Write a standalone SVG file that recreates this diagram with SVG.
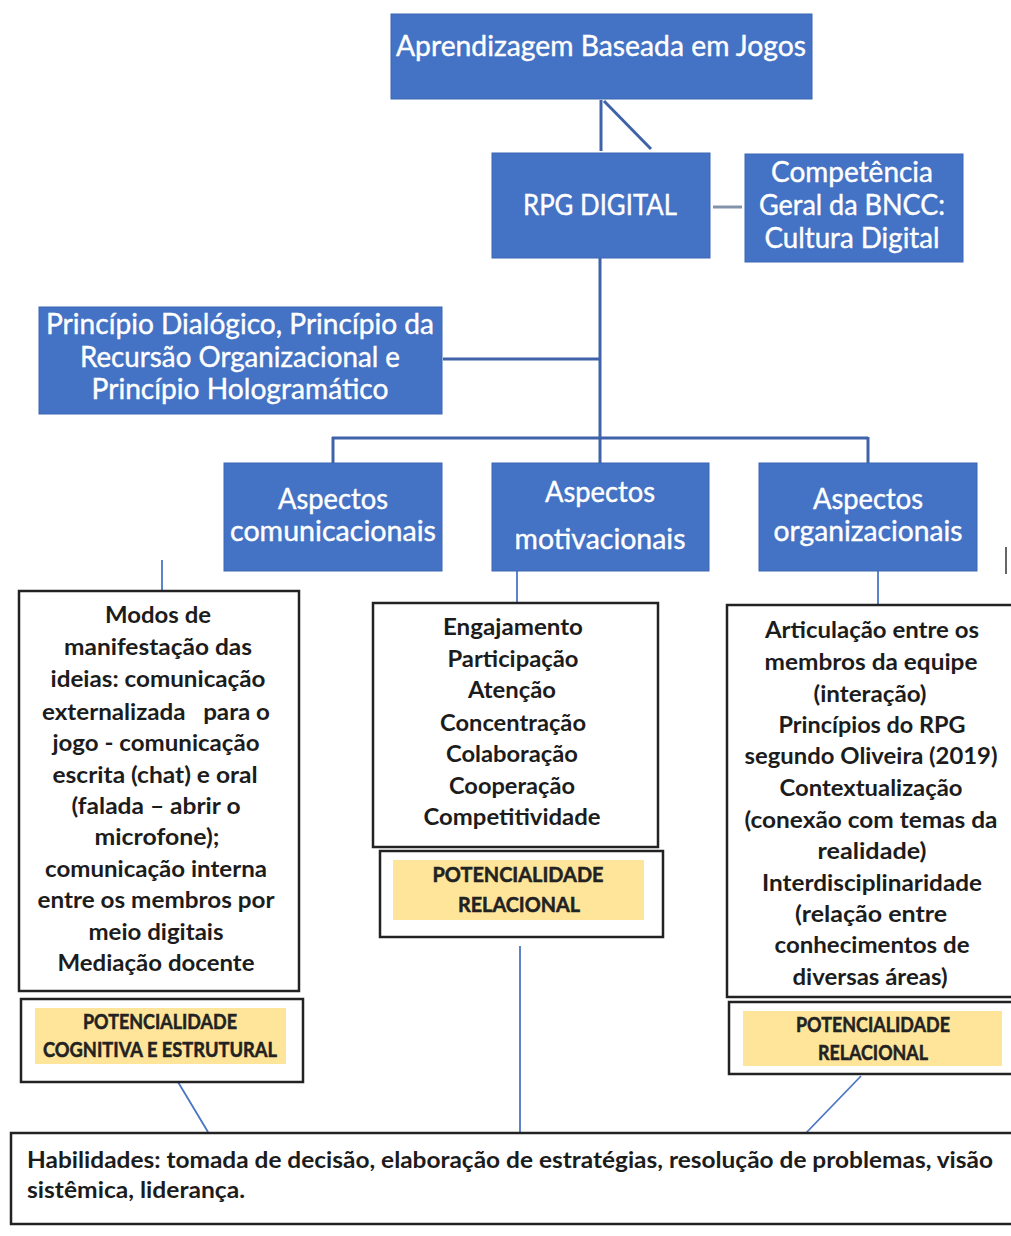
<svg xmlns="http://www.w3.org/2000/svg" width="1011" height="1236" viewBox="0 0 1011 1236">
<style>
.bx{fill:#4472c4;stroke:#3b66b3;stroke-width:1}
.wt{font-family:Lato,"Open Sans","Noto Sans",sans-serif;font-size:28px;fill:#ffffff;stroke:#ffffff;stroke-width:0.4;text-anchor:middle}
.tb{fill:#ffffff;stroke:#222222;stroke-width:2.5}
.bt{font-family:Lato,"Open Sans","Noto Sans",sans-serif;font-weight:bold;font-size:23px;fill:#1c1c1c;text-anchor:middle}
.pt{font-family:Lato,"Open Sans","Noto Sans",sans-serif;font-weight:bold;font-size:20px;fill:#222222;stroke:#222222;stroke-width:0.5;text-anchor:middle}
.yl{fill:#fee59a}
.c1{stroke:#3f62a8;stroke-width:3;fill:none}
.c2{stroke:#4a76c4;stroke-width:1.8;fill:none}
</style>
<rect width="1011" height="1236" fill="#ffffff"/>
<g id="connectors">
<line class="c1" x1="601" y1="100" x2="601" y2="151"/>
<line class="c1" x1="604" y1="101" x2="651" y2="149"/>
<line x1="713" y1="207" x2="742" y2="207" stroke="#8393aa" stroke-width="3"/>
<line class="c1" x1="600" y1="258" x2="600" y2="463"/>
<line class="c1" x1="443" y1="359" x2="600" y2="359"/>
<line class="c1" x1="332" y1="438" x2="868" y2="438"/>
<line class="c1" x1="333" y1="437" x2="333" y2="463"/>
<line class="c1" x1="868" y1="437" x2="868" y2="463"/>
<line class="c2" x1="162" y1="560" x2="162" y2="591"/>
<line class="c2" x1="517" y1="571" x2="517" y2="603"/>
<line class="c2" x1="878" y1="571" x2="878" y2="605"/>
<line class="c2" x1="178" y1="1082" x2="208" y2="1132"/>
<line class="c2" x1="520" y1="946" x2="520" y2="1132"/>
<line class="c2" x1="861" y1="1076" x2="806" y2="1133"/>
<line x1="1006" y1="547" x2="1006" y2="574" stroke="#666666" stroke-width="2"/>
</g>
<g id="aprendizagem">
<rect class="bx" x="391" y="14" width="421" height="85"/>
<text class="wt" x="601" y="56" textLength="410" lengthAdjust="spacingAndGlyphs">Aprendizagem Baseada em Jogos</text>
</g>
<g id="rpg">
<rect class="bx" x="492" y="153" width="218" height="105"/>
<text class="wt" x="600" y="215" textLength="154" lengthAdjust="spacingAndGlyphs">RPG DIGITAL</text>
</g>
<g id="competencia">
<rect class="bx" x="745" y="154" width="218" height="108"/>
<text class="wt" x="852" y="182" textLength="162" lengthAdjust="spacingAndGlyphs">Competência</text>
<text class="wt" x="852" y="215" textLength="186" lengthAdjust="spacingAndGlyphs">Geral da BNCC:</text>
<text class="wt" x="852" y="248" textLength="175" lengthAdjust="spacingAndGlyphs">Cultura Digital</text>
</g>
<g id="principio">
<rect class="bx" x="39" y="307" width="403" height="107"/>
<text class="wt" x="240" y="334" textLength="388" lengthAdjust="spacingAndGlyphs">Princípio Dialógico, Princípio da</text>
<text class="wt" x="240" y="367" textLength="320" lengthAdjust="spacingAndGlyphs">Recursão Organizacional e</text>
<text class="wt" x="240" y="399" textLength="297" lengthAdjust="spacingAndGlyphs">Princípio Hologramático</text>
</g>
<g id="comunicacionais">
<rect class="bx" x="224" y="463" width="218" height="108"/>
<text class="wt" x="333" y="509" textLength="110" lengthAdjust="spacingAndGlyphs">Aspectos</text>
<text class="wt" x="333" y="541" textLength="206" lengthAdjust="spacingAndGlyphs">comunicacionais</text>
</g>
<g id="motivacionais">
<rect class="bx" x="492" y="463" width="217" height="108"/>
<text class="wt" x="600" y="502" textLength="110" lengthAdjust="spacingAndGlyphs">Aspectos</text>
<text class="wt" x="600" y="549" textLength="171" lengthAdjust="spacingAndGlyphs">motivacionais</text>
</g>
<g id="organizacionais">
<rect class="bx" x="759" y="463" width="218" height="108"/>
<text class="wt" x="868" y="509" textLength="110" lengthAdjust="spacingAndGlyphs">Aspectos</text>
<text class="wt" x="868" y="541" textLength="189" lengthAdjust="spacingAndGlyphs">organizacionais</text>
</g>
<g id="modos">
<rect class="tb" x="19" y="591" width="280" height="400"/>
<text class="bt" x="158" y="623" textLength="106" lengthAdjust="spacingAndGlyphs">Modos de</text>
<text class="bt" x="158" y="655" textLength="188" lengthAdjust="spacingAndGlyphs">manifestação das</text>
<text class="bt" x="158" y="687" textLength="215" lengthAdjust="spacingAndGlyphs">ideias: comunicação</text>
<text class="bt" x="156" y="720" textLength="228" lengthAdjust="spacingAndGlyphs" xml:space="preserve">externalizada   para o</text>
<text class="bt" x="156" y="751" textLength="207" lengthAdjust="spacingAndGlyphs">jogo - comunicação</text>
<text class="bt" x="155" y="783" textLength="205" lengthAdjust="spacingAndGlyphs">escrita (chat) e oral</text>
<text class="bt" x="156" y="814" textLength="169" lengthAdjust="spacingAndGlyphs">(falada – abrir o</text>
<text class="bt" x="157" y="845" textLength="125" lengthAdjust="spacingAndGlyphs">microfone);</text>
<text class="bt" x="156" y="877" textLength="222" lengthAdjust="spacingAndGlyphs">comunicação interna</text>
<text class="bt" x="156" y="908" textLength="237" lengthAdjust="spacingAndGlyphs">entre os membros por</text>
<text class="bt" x="156" y="940" textLength="135" lengthAdjust="spacingAndGlyphs">meio digitais</text>
<text class="bt" x="156" y="971" textLength="197" lengthAdjust="spacingAndGlyphs">Mediação docente</text>
</g>
<g id="pot-cognitiva">
<rect class="tb" x="21" y="999" width="282" height="83"/>
<rect class="yl" x="35" y="1008" width="251" height="56"/>
<text class="pt" x="160" y="1029" textLength="154" lengthAdjust="spacingAndGlyphs">POTENCIALIDADE</text>
<text class="pt" x="160" y="1057" textLength="234" lengthAdjust="spacingAndGlyphs">COGNITIVA E ESTRUTURAL</text>
</g>
<g id="engajamento">
<rect class="tb" x="373" y="603" width="285" height="244"/>
<text class="bt" x="513" y="635" textLength="140" lengthAdjust="spacingAndGlyphs">Engajamento</text>
<text class="bt" x="513" y="667" textLength="131" lengthAdjust="spacingAndGlyphs">Participação</text>
<text class="bt" x="512" y="698" textLength="88" lengthAdjust="spacingAndGlyphs">Atenção</text>
<text class="bt" x="513" y="731" textLength="146" lengthAdjust="spacingAndGlyphs">Concentração</text>
<text class="bt" x="512" y="762" textLength="132" lengthAdjust="spacingAndGlyphs">Colaboração</text>
<text class="bt" x="512" y="794" textLength="126" lengthAdjust="spacingAndGlyphs">Cooperação</text>
<text class="bt" x="512" y="825" textLength="177" lengthAdjust="spacingAndGlyphs">Competitividade</text>
</g>
<g id="pot-relacional-1">
<rect class="tb" x="380" y="851" width="283" height="86"/>
<rect class="yl" x="393" y="860" width="251" height="60"/>
<text class="pt" x="518" y="882" textLength="171" lengthAdjust="spacingAndGlyphs">POTENCIALIDADE</text>
<text class="pt" x="519" y="912" textLength="122" lengthAdjust="spacingAndGlyphs">RELACIONAL</text>
</g>
<g id="articulacao">
<rect class="tb" x="727" y="605" width="300" height="392"/>
<text class="bt" x="872" y="638" textLength="214" lengthAdjust="spacingAndGlyphs">Articulação entre os</text>
<text class="bt" x="871" y="670" textLength="213" lengthAdjust="spacingAndGlyphs">membros da equipe</text>
<text class="bt" x="870" y="702" textLength="113" lengthAdjust="spacingAndGlyphs">(interação)</text>
<text class="bt" x="872" y="733" textLength="187" lengthAdjust="spacingAndGlyphs">Princípios do RPG</text>
<text class="bt" x="871" y="764" textLength="253" lengthAdjust="spacingAndGlyphs">segundo Oliveira (2019)</text>
<text class="bt" x="871" y="796" textLength="183" lengthAdjust="spacingAndGlyphs">Contextualização</text>
<text class="bt" x="871" y="828" textLength="253" lengthAdjust="spacingAndGlyphs">(conexão com temas da</text>
<text class="bt" x="872" y="859" textLength="109" lengthAdjust="spacingAndGlyphs">realidade)</text>
<text class="bt" x="872" y="891" textLength="220" lengthAdjust="spacingAndGlyphs">Interdisciplinaridade</text>
<text class="bt" x="871" y="922" textLength="152" lengthAdjust="spacingAndGlyphs">(relação entre</text>
<text class="bt" x="872" y="953" textLength="195" lengthAdjust="spacingAndGlyphs">conhecimentos de</text>
<text class="bt" x="870" y="985" textLength="155" lengthAdjust="spacingAndGlyphs">diversas áreas)</text>
</g>
<g id="pot-relacional-2">
<rect class="tb" x="729" y="1002" width="300" height="72"/>
<rect class="yl" x="743" y="1011" width="259" height="55"/>
<text class="pt" x="873" y="1032" textLength="154" lengthAdjust="spacingAndGlyphs">POTENCIALIDADE</text>
<text class="pt" x="873" y="1060" textLength="110" lengthAdjust="spacingAndGlyphs">RELACIONAL</text>
</g>
<g id="habilidades">
<rect class="tb" x="11" y="1133" width="1010" height="91"/>
<text class="bt" x="27" y="1168" style="text-anchor:start" textLength="966" lengthAdjust="spacingAndGlyphs">Habilidades: tomada de decisão, elaboração de estratégias, resolução de problemas, visão</text>
<text class="bt" x="27" y="1198" style="text-anchor:start" textLength="218" lengthAdjust="spacingAndGlyphs">sistêmica, liderança.</text>
</g>
</svg>
